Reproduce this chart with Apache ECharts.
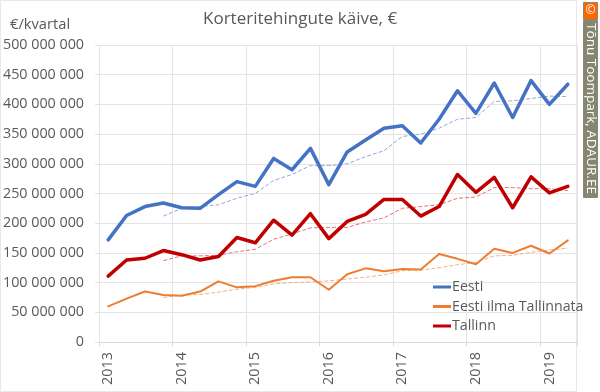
<!DOCTYPE html>
<html><head><meta charset="utf-8">
<style>html,body{margin:0;padding:0;background:#fff}#c{width:600px;height:392px}</style>
<script src="https://cdn.jsdelivr.net/npm/echarts@6/dist/echarts.min.js"></script>
</head><body><div id="c"></div>
<script>
const categories = ['2013','2013Q2','2013Q3','2013Q4','2014','2014Q2','2014Q3','2014Q4','2015','2015Q2','2015Q3','2015Q4','2016','2016Q2','2016Q3','2016Q4','2017','2017Q2','2017Q3','2017Q4','2018','2018Q2','2018Q3','2018Q4','2019','2019Q2'];
const M = 1000000;
const eesti = [172,213,228,234,226,225,248,270,262,309,290,326,265,320,340,360,364,335,375,423,385,436,378,440,400,434];
const ilma = [60,73,85,79,78,85,102,92,94,103,109,109,88,114,124,119,123,122,148,140,131,157,150,162,149,171];
const tallinn = [111,138,141,154,147,138,144,176,167,205,180,216,174,203,215,240,240,212,228,282,252,277,226,278,251,262];
const eestiAvg = [null,null,null,212,225,228,231,242,250,272,282,297,297,300,312,322,346,350,360,375,378,405,406,410,414,413];
const ilmaAvg = [null,null,null,75,79,80,84,89,92,98,100,101,103,106,109,113,120,121,125,130,134,145,146,151,155,158];
const tallinnAvg = [null,null,null,137,145,145,146,152,156,173,182,192,193,193,202,209,225,228,231,242,244,260,260,258,258,255];
const fmt = v => String(v).replace(/\B(?=(\d{3})+(?!\d))/g,' ');
const scale = a => a.map(v => v===null?null:v*M);
const font = '"Open Sans"';
const line = (name,data,color,width) => ({name,type:'line',data:scale(data),symbol:'none',lineStyle:{color,width,join:'round',cap:'round'},itemStyle:{color},z:3});
const dash = (data,color) => ({type:'line',data:scale(data),symbol:'none',lineStyle:{color,width:1,type:[4,2]},z:2,silent:true});
const chart = echarts.init(document.getElementById('c'),null,{renderer:'canvas'});
chart.setOption({
  animation:false,
  backgroundColor:'#fff',
  title:{text:'Korteritehingute käive, €',left:198,top:6,textStyle:{fontFamily:font,fontSize:17,fontWeight:'normal',color:'#595959'}},
  legend:{orient:'vertical',left:428,top:275,itemWidth:18,itemHeight:3,itemGap:5.5,icon:'rect',
    data:['Eesti','Eesti ilma Tallinnata','Tallinn'],
    textStyle:{fontFamily:font,fontSize:14.2,color:'#595959',padding:[0,0,0,-4]}},
  grid:{left:99,right:23,top:45,bottom:50},
  xAxis:{type:'category',data:categories,boundaryGap:true,
    axisLine:{lineStyle:{color:'#d9d9d9'}},
    axisTick:{show:true,interval:3,length:4,lineStyle:{color:'#d9d9d9'}},
    splitLine:{show:true,interval:3,lineStyle:{color:'#e4e4e4'}},
    axisLabel:{show:true,interval:3,rotate:90,fontFamily:font,fontSize:14.4,color:'#595959',margin:10,hideOverlap:false,formatter:v=>v.slice(0,4)}},
  yAxis:{type:'value',min:0,max:500*M,interval:50*M,
    axisLine:{show:false},
    axisTick:{show:true,length:4,lineStyle:{color:'#e4e4e4'}},
    splitLine:{lineStyle:{color:'#e4e4e4'}},
    axisLabel:{fontFamily:font,fontSize:14.3,color:'#595959',margin:15,formatter:fmt}},
  series:[
    dash(eestiAvg,'#8faadc'),dash(ilmaAvg,'#f4b183'),dash(tallinnAvg,'#e57373'),
    line('Eesti',eesti,'#4472c4',3.5),
    line('Eesti ilma Tallinnata',ilma,'#ed7d31',2),
    line('Tallinn',tallinn,'#c00000',3.5)
  ],
  graphic:[
    {type:'text',left:10,top:17,style:{text:'€/kvartal',fontFamily:font,fontSize:14.7,fill:'#595959'}},
    {type:'rect',shape:{x:0.5,y:0.5,width:576,height:391},style:{fill:'none',stroke:'#e8e8e8',lineWidth:1},z:0},
    {type:'rect',shape:{x:583.5,y:2.5,width:14,height:17},style:{fill:'#ff6600',stroke:'#888878'},z:10},
    {type:'text',x:590.5,y:11,z:11,style:{text:'©',fontFamily:font,fontSize:12,fill:'#fff',align:'center',verticalAlign:'middle'}},
    {type:'rect',shape:{x:583.5,y:20.5,width:14,height:177},style:{fill:'#858570',stroke:'#888878'},z:10},
    {type:'text',x:590.5,y:108.5,rotation:-Math.PI/2,z:11,style:{text:'Tõnu Toompark, ADAUR.EE',fontFamily:font,fontSize:13.5,fill:'#fff',align:'center',verticalAlign:'middle'}}
  ]
});
</script></body></html>
